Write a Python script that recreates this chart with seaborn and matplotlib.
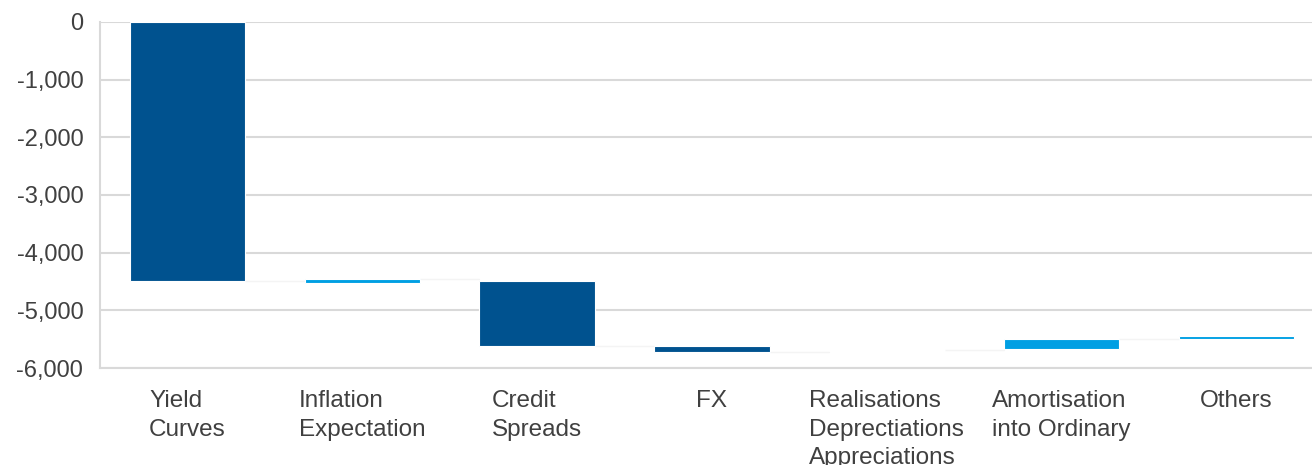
import matplotlib
matplotlib.use("Agg")
import matplotlib.pyplot as plt
import seaborn as sns
import pandas as pd

# Waterfall of market-value movements (in thousands)
categories = [
    "Yield\nCurves",
    "Inflation\nExpectation",
    "Credit\nSpreads",
    "FX",
    "Realisations\nDeprectiations\nAppreciations",
    "Amortisation\ninto Ordinary",
    "Others",
]
bar_start = [0, -4520, -4490, -5620, -5680, -5670, -5505]
bar_end = [-4490, -4460, -5620, -5730, -5680, -5500, -5450]
y_ticks = [0, -1000, -2000, -3000, -4000, -5000, -6000]

DARK = "#00528F"
LIGHT = "#009FE3"
colors = [DARK if e < s else LIGHT for s, e in zip(bar_start, bar_end)]

df = pd.DataFrame({
    "category": categories,
    "low": [min(s, e) for s, e in zip(bar_start, bar_end)],
    "high": [max(s, e) for s, e in zip(bar_start, bar_end)],
})
df["size"] = df["high"] - df["low"]

sns.set_theme(style="white")
plt.rcParams["font.family"] = ["Liberation Sans", "DejaVu Sans"]

fig = plt.figure(figsize=(13.12, 4.65), dpi=100)
ax = fig.add_axes([0.0762, 0.2086, 0.9329, 0.7441])

sns.barplot(
    data=df, x="category", y="size", hue="category",
    palette=colors, legend=False, width=0.66, saturation=1,
    dodge=False, ax=ax, edgecolor="white", linewidth=0.8, zorder=3,
)
# shift every bar so it floats between its start and end level
for patch, low, size in zip(ax.patches, df["low"], df["size"]):
    patch.set_y(low)
    patch.set_height(size)

# faint connector lines between consecutive bars
for i in range(len(categories) - 1):
    ax.plot([i + 0.33, i + 1 - 0.33], [bar_end[i], bar_end[i]],
            color="#f4f4f4", lw=1.0, zorder=2)

ax.set_xlim(-0.5, len(categories) - 0.5)
ax.set_ylim(-6000, 0)
ax.set_yticks(y_ticks)
ax.set_yticklabels([f"{v:,}" for v in y_ticks])
ax.yaxis.grid(True, color="#d9d9d9", lw=1.5, zorder=0)
ax.set_axisbelow(True)
ax.set_xlabel("")
ax.set_ylabel("")

for side in ["top", "right"]:
    ax.spines[side].set_visible(False)
for side in ["left", "bottom"]:
    ax.spines[side].set_color("#d9d9d9")
    ax.spines[side].set_linewidth(1.5)

ax.tick_params(axis="y", length=0, pad=12, labelsize=17, labelcolor="#404040")
ax.tick_params(axis="x", length=0, pad=16, labelsize=17.5, labelcolor="#404040")
for lbl in ax.get_xticklabels():
    lbl.set_multialignment("left")
    lbl.set_verticalalignment("top")
    lbl.set_linespacing(1.38)

fig.savefig("out.png", dpi=100, facecolor="white")
